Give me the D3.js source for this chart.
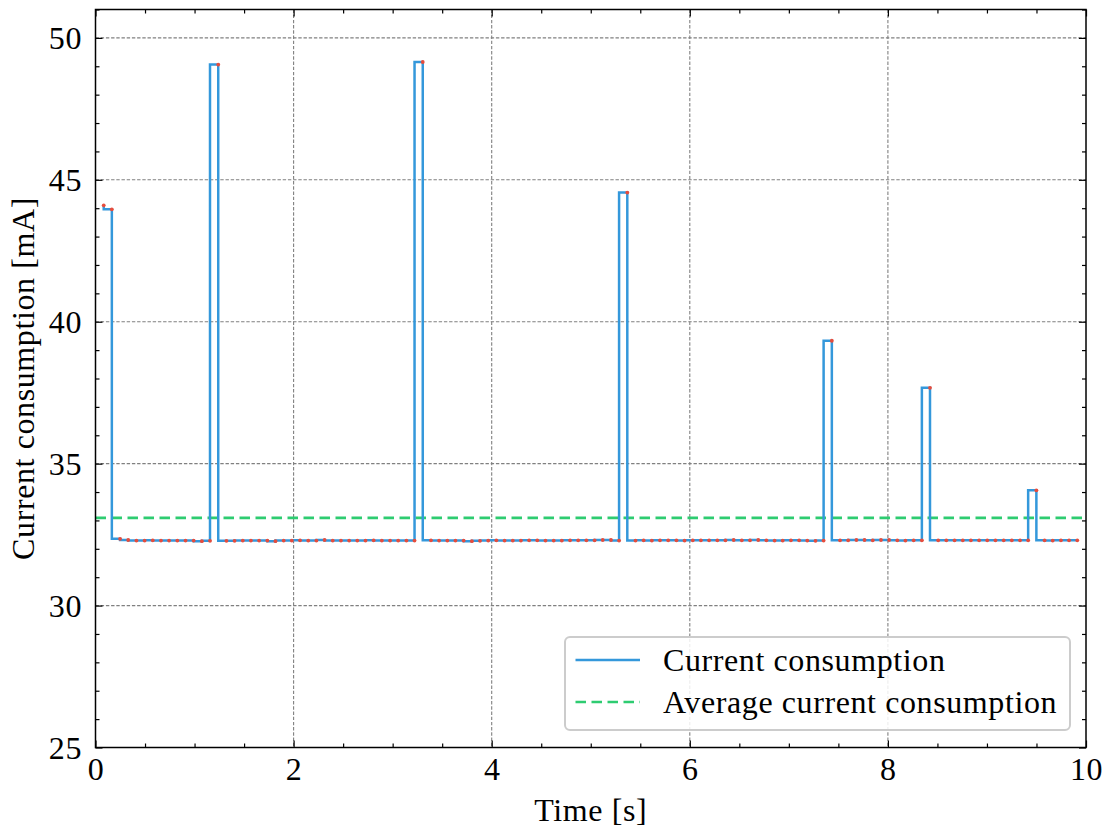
<!DOCTYPE html>
<html>
<head>
<meta charset="utf-8">
<script src="https://cdn.jsdelivr.net/npm/d3@7"></script>
<style>
  html, body { margin: 0; padding: 0; background: #ffffff; }
  svg { display: block; }
  text { font-family: "Liberation Serif", "Times New Roman", serif; fill: #000; letter-spacing: 0.6px; }
</style>
</head>
<body>
<svg id="chart" width="1106" height="829"></svg>
<script>
// Sample times [s]
const times = [
  0.083, 0.165, 0.248, 0.330, 0.413, 0.496, 0.578, 0.661, 0.743, 0.826,
  0.909, 0.991, 1.074, 1.156, 1.239, 1.322, 1.404, 1.487, 1.569, 1.652,
  1.735, 1.817, 1.900, 1.982, 2.065, 2.148, 2.230, 2.313, 2.395, 2.478,
  2.561, 2.643, 2.726, 2.808, 2.891, 2.974, 3.056, 3.139, 3.221, 3.304,
  3.387, 3.469, 3.552, 3.634, 3.717, 3.800, 3.882, 3.965, 4.047, 4.130,
  4.213, 4.295, 4.378, 4.460, 4.543, 4.626, 4.708, 4.791, 4.873, 4.956,
  5.039, 5.121, 5.204, 5.286, 5.369, 5.452, 5.534, 5.617, 5.699, 5.782,
  5.865, 5.947, 6.030, 6.112, 6.195, 6.278, 6.360, 6.443, 6.525, 6.608,
  6.691, 6.773, 6.856, 6.938, 7.021, 7.104, 7.186, 7.269, 7.351, 7.434,
  7.517, 7.599, 7.682, 7.764, 7.847, 7.930, 8.012, 8.095, 8.177, 8.260,
  8.343, 8.425, 8.508, 8.590, 8.673, 8.756, 8.838, 8.921, 9.003, 9.086,
  9.169, 9.251, 9.334, 9.416, 9.499, 9.582, 9.664, 9.747, 9.829, 9.912
];

// Measured current [mA]
const current = [
  44.10, 43.96, 32.35, 32.31, 32.29, 32.29, 32.30, 32.29, 32.29, 32.29,
  32.29, 32.29, 32.27, 32.28, 49.06, 32.28, 32.28, 32.29, 32.29, 32.29,
  32.29, 32.27, 32.29, 32.29, 32.30, 32.29, 32.29, 32.31, 32.29, 32.29,
  32.29, 32.29, 32.29, 32.30, 32.29, 32.29, 32.29, 32.29, 32.29, 49.15,
  32.30, 32.29, 32.29, 32.29, 32.29, 32.27, 32.28, 32.29, 32.30, 32.29,
  32.29, 32.29, 32.30, 32.30, 32.29, 32.29, 32.29, 32.30, 32.30, 32.30,
  32.30, 32.31, 32.31, 32.29, 44.55, 32.29, 32.30, 32.29, 32.30, 32.30,
  32.30, 32.29, 32.30, 32.30, 32.30, 32.30, 32.30, 32.31, 32.30, 32.30,
  32.31, 32.30, 32.29, 32.29, 32.30, 32.30, 32.29, 32.28, 32.29, 39.33,
  32.30, 32.30, 32.31, 32.31, 32.30, 32.31, 32.31, 32.30, 32.29, 32.30,
  32.30, 37.67, 32.30, 32.30, 32.30, 32.30, 32.30, 32.30, 32.30, 32.30,
  32.30, 32.30, 32.30, 32.30, 34.06, 32.30, 32.29, 32.30, 32.30, 32.30
];

const averageCurrent = 33.09;

const xTicks = [0, 2, 4, 6, 8, 10];
const yTicks = [25, 30, 35, 40, 45, 50];
const xMinorStep = 0.5;
const yMinorStep = 1;

const legendLabels = ["Current consumption", "Average current consumption"];

const colors = { line: "#3498db", dots: "#e74c3c", avg: "#2ecc71", grid: "#808080" };

const margin = { left: 95.5, top: 9.5, right: 1106 - 1086, bottom: 829 - 747.5 };
const W = 1106, H = 829;
const iw = W - margin.left - margin.right;
const ih = H - margin.top - margin.bottom;

const svg = d3.select("#chart");
const g = svg.append("g").attr("transform", `translate(${margin.left},${margin.top})`);

const x = d3.scaleLinear().domain([0, 10]).range([0, iw]);
const y = d3.scaleLinear().domain([25, 51]).range([ih, 0]);

svg.append("defs").append("clipPath").attr("id", "plotclip")
  .append("rect").attr("x", 0).attr("y", 0).attr("width", iw).attr("height", ih);

// Grid at major ticks
const grid = g.append("g");
grid.selectAll("line.gx").data(xTicks.filter(d => d > 0 && d < 10)).join("line")
  .attr("x1", d => x(d)).attr("x2", d => x(d)).attr("y1", 0).attr("y2", ih)
  .attr("stroke", colors.grid).attr("stroke-width", 1.1).attr("stroke-dasharray", "3.4,1.8");
grid.selectAll("line.gy").data(yTicks.filter(d => d > 25)).join("line")
  .attr("y1", d => y(d)).attr("y2", d => y(d)).attr("x1", 0).attr("x2", iw)
  .attr("stroke", colors.grid).attr("stroke-width", 1.1).attr("stroke-dasharray", "3.4,1.8");

const data = times.map((t, i) => ({ t, v: current[i] }));
const plot = g.append("g").attr("clip-path", "url(#plotclip)");

// Average line
plot.append("line")
  .attr("x1", 0).attr("x2", iw)
  .attr("y1", y(averageCurrent)).attr("y2", y(averageCurrent))
  .attr("stroke", colors.avg).attr("stroke-width", 2.6)
  .attr("stroke-dasharray", "10.5,5.5");

// Stepped current trace
const stepLine = d3.line().x(d => x(d.t)).y(d => y(d.v)).curve(d3.curveStepBefore);
plot.append("path").datum(data)
  .attr("d", stepLine)
  .attr("fill", "none").attr("stroke", colors.line).attr("stroke-width", 2.5)
  .attr("stroke-linejoin", "miter");

// Sample points
plot.selectAll("circle").data(data).join("circle")
  .attr("cx", d => x(d.t)).attr("cy", d => y(d.v)).attr("r", 1.9)
  .attr("fill", colors.dots);

// Axes: ticks inward on all four sides
const majorLen = 7, minorLen = 4;
const fontSize = 32;
const xMinor = d3.range(0, 10 + 1e-9, xMinorStep).filter(v => !xTicks.includes(+v.toFixed(3)));
const yMinor = d3.range(25, 51 + 1e-9, yMinorStep).filter(v => !yTicks.includes(+v.toFixed(3)));

function addAxis(axisGen, transform) {
  const a = g.append("g").attr("transform", transform).call(axisGen);
  a.select(".domain").remove();
  a.selectAll("line").attr("stroke", "#000").attr("stroke-width", 1.2);
  return a;
}

// bottom
const bx = addAxis(d3.axisBottom(x).tickValues(xTicks).tickSize(-majorLen)
  .tickFormat(d3.format("d")), `translate(0,${ih})`);
addAxis(d3.axisBottom(x).tickValues(xMinor).tickSize(-minorLen).tickFormat(""), `translate(0,${ih})`);
// top
addAxis(d3.axisTop(x).tickValues(xTicks).tickSize(-majorLen).tickFormat(""), `translate(0,0)`);
addAxis(d3.axisTop(x).tickValues(xMinor).tickSize(-minorLen).tickFormat(""), `translate(0,0)`);
// left
const ly = addAxis(d3.axisLeft(y).tickValues(yTicks).tickSize(-majorLen).tickPadding(13.5)
  .tickFormat(d3.format("d")), `translate(0,0)`);
addAxis(d3.axisLeft(y).tickValues(yMinor).tickSize(-minorLen).tickFormat(""), `translate(0,0)`);
// right
addAxis(d3.axisRight(y).tickValues(yTicks).tickSize(-majorLen).tickFormat(""), `translate(${iw},0)`);
addAxis(d3.axisRight(y).tickValues(yMinor).tickSize(-minorLen).tickFormat(""), `translate(${iw},0)`);

g.selectAll(".tick text")
  .style("font-family", '"Liberation Serif", serif')
  .style("font-size", fontSize + "px")
  .attr("fill", "#000");
bx.selectAll(".tick text").attr("dy", "0.71em").attr("y", 10);
ly.selectAll(".tick text").attr("dy", "0.34em");

// Frame
g.append("rect").attr("x", 0).attr("y", 0).attr("width", iw).attr("height", ih)
  .attr("fill", "none").attr("stroke", "#000").attr("stroke-width", 1.5);

// Axis titles
svg.append("text")
  .attr("x", margin.left + iw / 2).attr("y", 821)
  .attr("text-anchor", "middle").style("font-size", fontSize + "px")
  .text("Time [s]");
svg.append("text")
  .attr("transform", `translate(34,${margin.top + ih / 2}) rotate(-90)`)
  .attr("text-anchor", "middle").style("font-size", fontSize + "px")
  .text("Current consumption [mA]");

// Legend
const legend = svg.append("g");
legend.append("rect")
  .attr("x", 565).attr("y", 637).attr("width", 505).attr("height", 93)
  .attr("rx", 5).attr("ry", 5)
  .attr("fill", "#ffffff").attr("fill-opacity", 0.85)
  .attr("stroke", "#cccccc").attr("stroke-width", 2);

const legendItems = [
  { label: legendLabels[0], color: colors.line, dash: null, yy: 660 },
  { label: legendLabels[1], color: colors.avg, dash: "10.5,5.5", yy: 702 }
];
legendItems.forEach(it => {
  legend.append("line")
    .attr("x1", 575.5).attr("x2", 640).attr("y1", it.yy).attr("y2", it.yy)
    .attr("stroke", it.color).attr("stroke-width", 2.6)
    .attr("stroke-dasharray", it.dash);
  legend.append("text")
    .attr("x", 663).attr("y", it.yy).attr("dy", "0.34em")
    .style("font-size", fontSize + "px")
    .text(it.label);
});
</script>
</body>
</html>
